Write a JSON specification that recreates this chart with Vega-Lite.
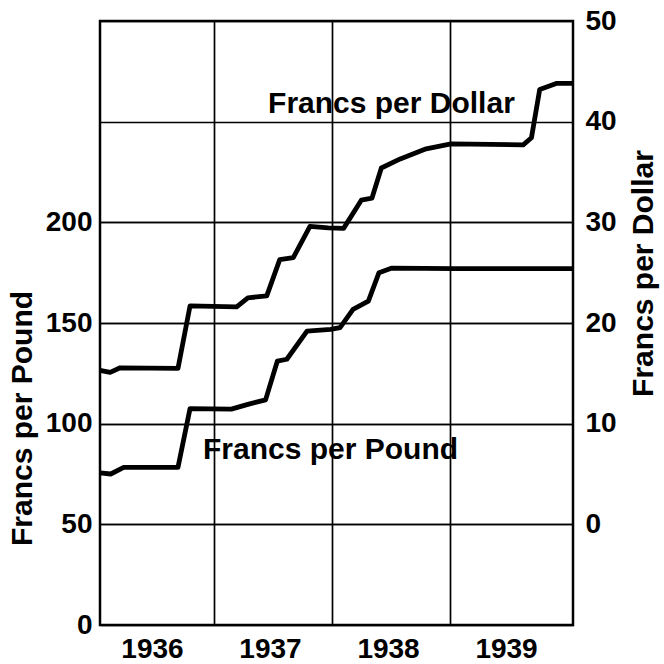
{
  "$schema": "https://vega.github.io/schema/vega-lite/v6.json",
  "autosize": {"type": "none"},
  "padding": {"left": 100, "top": 21, "right": 91, "bottom": 39},
  "width": 473,
  "height": 604,
  "background": "white",
  "config": {
    "font": "Liberation Sans",
    "view": {"stroke": "black", "strokeWidth": 2.5},
    "axis": {
      "labelFont": "Liberation Sans",
      "labelFontSize": 28,
      "labelFontWeight": "bold",
      "labelColor": "black",
      "titleFont": "Liberation Sans",
      "titleFontSize": 30,
      "titleFontWeight": "bold",
      "titleColor": "black",
      "ticks": false,
      "domain": false,
      "gridColor": "black",
      "gridOpacity": 1,
      "gridWidth": 1.7
    }
  },
  "datasets": {
    "pound": [
      {"year": 1936.034, "value": 75.6},
      {"year": 1936.125, "value": 75.0},
      {"year": 1936.235, "value": 78.3},
      {"year": 1936.695, "value": 78.3},
      {"year": 1936.797, "value": 107.5},
      {"year": 1937.147, "value": 107.2},
      {"year": 1937.287, "value": 109.6},
      {"year": 1937.437, "value": 111.8},
      {"year": 1937.537, "value": 131.1},
      {"year": 1937.617, "value": 132.0},
      {"year": 1937.788, "value": 146.0},
      {"year": 1937.988, "value": 146.8},
      {"year": 1938.068, "value": 147.7},
      {"year": 1938.178, "value": 156.8},
      {"year": 1938.308, "value": 160.9},
      {"year": 1938.398, "value": 175.0},
      {"year": 1938.508, "value": 177.3},
      {"year": 1939.04, "value": 177.0},
      {"year": 1940.042, "value": 177.0}
    ],
    "dollar": [
      {"year": 1936.034, "value": 15.3},
      {"year": 1936.12, "value": 15.1},
      {"year": 1936.205, "value": 15.55},
      {"year": 1936.695, "value": 15.5},
      {"year": 1936.797, "value": 21.7},
      {"year": 1937.192, "value": 21.6},
      {"year": 1937.287, "value": 22.5},
      {"year": 1937.447, "value": 22.7},
      {"year": 1937.557, "value": 26.3},
      {"year": 1937.672, "value": 26.5},
      {"year": 1937.813, "value": 29.6},
      {"year": 1937.968, "value": 29.45},
      {"year": 1938.098, "value": 29.4},
      {"year": 1938.248, "value": 32.2},
      {"year": 1938.338, "value": 32.4},
      {"year": 1938.418, "value": 35.4},
      {"year": 1938.578, "value": 36.3},
      {"year": 1938.798, "value": 37.3},
      {"year": 1939.008, "value": 37.8},
      {"year": 1939.62, "value": 37.7},
      {"year": 1939.69, "value": 38.4},
      {"year": 1939.76, "value": 43.2},
      {"year": 1939.9, "value": 43.8},
      {"year": 1940.042, "value": 43.8}
    ],
    "poundLabel": [{"year": 1936.907, "value": 82.4, "text": "Francs per Pound"}],
    "dollarLabel": [{"year": 1937.458, "value": 40.9, "text": "Francs per Dollar"}]
  },
  "layer": [
    {
      "layer": [
        {
          "data": {"name": "pound"},
          "mark": {"type": "line", "color": "black", "strokeWidth": 4.8, "strokeJoin": "round", "strokeCap": "butt"},
          "encoding": {
            "x": {
              "field": "year", "type": "quantitative",
              "scale": {"domain": [1936.034, 1940.042], "nice": false, "zero": false},
              "axis": {
                "values": [1937, 1938, 1939, 1940],
                "labelExpr": "'' + (datum.value - 1)",
                "title": null,
                "grid": true,
                "gridOpacity": {"condition": {"test": "datum.value > 1939.5", "value": 0}, "value": 1},
                "labelOffset": -62,
                "labelFlush": false,
                "labelPadding": 10
              }
            },
            "y": {
              "field": "value", "type": "quantitative",
              "scale": {"domain": [0, 300], "nice": false, "zero": false},
              "axis": {
                "orient": "left",
                "values": [0, 50, 100, 150, 200],
                "title": "Francs per Pound",
                "grid": true,
                "labelPadding": 8,
                "titleAngle": 270,
                "titleAlign": "center",
                "titleBaseline": "middle",
                "titleX": -78,
                "titleY": 397
              }
            }
          }
        },
        {
          "data": {"name": "poundLabel"},
          "mark": {"type": "text", "align": "left", "baseline": "alphabetic", "fontSize": 30, "fontWeight": "bold", "font": "Liberation Sans", "color": "black"},
          "encoding": {
            "x": {"field": "year", "type": "quantitative"},
            "y": {"field": "value", "type": "quantitative"},
            "text": {"field": "text"}
          }
        }
      ]
    },
    {
      "layer": [
        {
          "data": {"name": "dollar"},
          "mark": {"type": "line", "color": "black", "strokeWidth": 4.8, "strokeJoin": "round", "strokeCap": "butt"},
          "encoding": {
            "x": {"field": "year", "type": "quantitative"},
            "y": {
              "field": "value", "type": "quantitative",
              "scale": {"domain": [-10, 50], "nice": false, "zero": false},
              "axis": {
                "orient": "right",
                "values": [0, 10, 20, 30, 40, 50],
                "title": "Francs per Dollar",
                "grid": true,
                "labelPadding": 12,
                "titleAngle": 270,
                "titleAlign": "center",
                "titleBaseline": "middle",
                "titleX": 70,
                "titleY": 252
              }
            }
          }
        },
        {
          "data": {"name": "dollarLabel"},
          "mark": {"type": "text", "align": "left", "baseline": "alphabetic", "fontSize": 30, "fontWeight": "bold", "font": "Liberation Sans", "color": "black"},
          "encoding": {
            "x": {"field": "year", "type": "quantitative"},
            "y": {"field": "value", "type": "quantitative"},
            "text": {"field": "text"}
          }
        }
      ]
    }
  ],
  "resolve": {"scale": {"y": "independent"}}
}
